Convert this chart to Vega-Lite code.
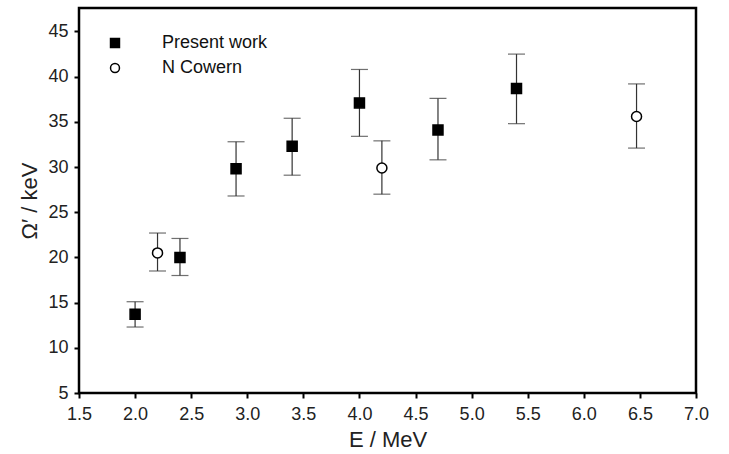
{
  "$schema": "https://vega.github.io/schema/vega-lite/v6.json",
  "width": 617,
  "height": 385,
  "autosize": "none",
  "padding": {"left": 79, "top": 8, "right": 33, "bottom": 61},
  "background": "white",
  "data": {
    "values": [
      {"E": 2.0, "v": 13.7, "lo": 12.3, "hi": 15.1, "s": "Present work"},
      {"E": 2.4, "v": 20.0, "lo": 18.0, "hi": 22.1, "s": "Present work"},
      {"E": 2.9, "v": 29.8, "lo": 26.8, "hi": 32.8, "s": "Present work"},
      {"E": 3.4, "v": 32.3, "lo": 29.1, "hi": 35.4, "s": "Present work"},
      {"E": 4.0, "v": 37.1, "lo": 33.4, "hi": 40.8, "s": "Present work"},
      {"E": 4.7, "v": 34.1, "lo": 30.8, "hi": 37.6, "s": "Present work"},
      {"E": 5.4, "v": 38.7, "lo": 34.8, "hi": 42.5, "s": "Present work"},
      {"E": 2.2, "v": 20.5, "lo": 18.5, "hi": 22.7, "s": "N  Cowern"},
      {"E": 4.2, "v": 29.9, "lo": 27.0, "hi": 32.9, "s": "N  Cowern"},
      {"E": 6.47, "v": 35.6, "lo": 32.1, "hi": 39.2, "s": "N  Cowern"}
    ]
  },
  "config": {
    "view": {"stroke": "black", "strokeWidth": 2.5},
    "axis": {
      "domain": false,
      "grid": false,
      "labelFont": "Liberation Sans",
      "labelFontSize": 18,
      "labelColor": "#222",
      "labelOverlap": false,
      "titleFont": "Liberation Sans",
      "titleFontSize": 22,
      "titleFontWeight": "normal",
      "titleColor": "#222"
    },
    "legend": {
      "orient": "none",
      "legendX": 27,
      "legendY": 26,
      "title": null,
      "labelFont": "Liberation Sans",
      "labelFontSize": 18,
      "labelColor": "#111",
      "labelOffset": 38,
      "rowPadding": 7,
      "symbolSize": 80,
      "symbolStrokeWidth": 1.5
    }
  },
  "layer": [
    {
      "mark": {"type": "rule", "color": "#333", "strokeWidth": 1.2},
      "encoding": {
        "x": {
          "field": "E", "type": "quantitative",
          "scale": {"domain": [1.5, 7.0], "nice": false, "zero": false},
          "axis": {
            "orient": "bottom",
            "values": [1.5, 1.75, 2.0, 2.25, 2.5, 2.75, 3.0, 3.25, 3.5, 3.75, 4.0, 4.25, 4.5, 4.75, 5.0, 5.25, 5.5, 5.75, 6.0, 6.25, 6.5, 6.75, 7.0],
            "labelExpr": "abs(datum.value * 2 - round(datum.value * 2)) < 0.001 ? format(datum.value, '.1f') : ''",
            "tickColor": "black", "tickWidth": 2,
            "tickSize": 5,
            "labelPadding": 7,
            "labelFlush": false,
            "title": "E / MeV",
            "titlePadding": 6
          }
        },
        "y": {
          "field": "lo", "type": "quantitative",
          "scale": {"domain": [5, 47.6], "nice": false, "zero": false},
          "axis": {
            "orient": "left",
            "values": [5, 7.5, 10, 12.5, 15, 17.5, 20, 22.5, 25, 27.5, 30, 32.5, 35, 37.5, 40, 42.5, 45],
            "labelExpr": "datum.value % 5 == 0 ? format(datum.value, 'd') : ''",
            "tickColor": "black", "tickWidth": 2,
            "tickSize": 5,
            "labelPadding": 6,
            "labelFlush": false,
            "title": "Ω′ / keV",
            "titlePadding": 6
          }
        },
        "y2": {"field": "hi"}
      }
    },
    {
      "mark": {"type": "tick", "orient": "horizontal", "color": "#333", "size": 17, "thickness": 1.2},
      "encoding": {
        "x": {"field": "E", "type": "quantitative"},
        "y": {"field": "hi", "type": "quantitative"}
      }
    },
    {
      "mark": {"type": "tick", "orient": "horizontal", "color": "#333", "size": 17, "thickness": 1.2},
      "encoding": {
        "x": {"field": "E", "type": "quantitative"},
        "y": {"field": "lo", "type": "quantitative"}
      }
    },
    {
      "mark": {"type": "point", "strokeWidth": 1.5, "opacity": 1, "size": 100},
      "encoding": {
        "x": {"field": "E", "type": "quantitative"},
        "y": {"field": "v", "type": "quantitative"},
        "shape": {
          "field": "s", "type": "nominal",
          "scale": {"domain": ["Present work", "N  Cowern"], "range": ["square", "circle"]},
          "legend": {"title": null}
        },
        "fill": {
          "field": "s", "type": "nominal",
          "scale": {"domain": ["Present work", "N  Cowern"], "range": ["black", "white"]},
          "legend": {"title": null}
        },
        "stroke": {
          "field": "s", "type": "nominal",
          "scale": {"domain": ["Present work", "N  Cowern"], "range": ["black", "black"]},
          "legend": {"title": null}
        }
      }
    }
  ]
}
